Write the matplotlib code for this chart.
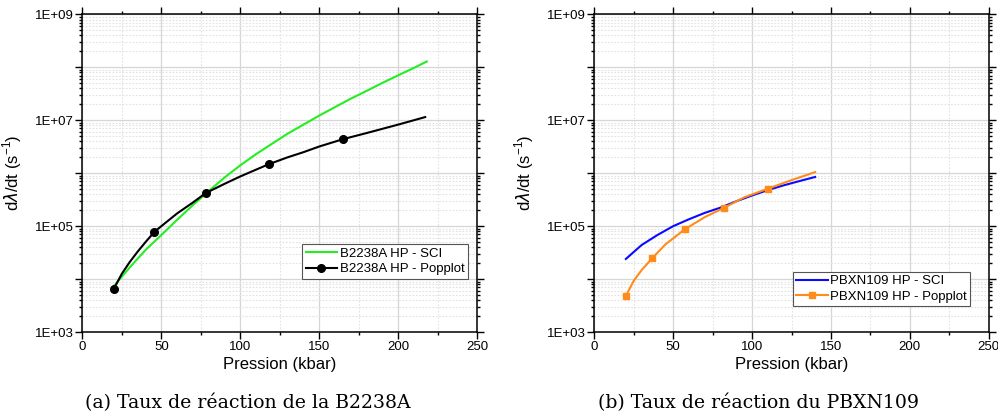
import numpy as np
import matplotlib
matplotlib.use("Agg")
import matplotlib.pyplot as plt
from matplotlib.ticker import LogLocator, FixedLocator, FuncFormatter, MultipleLocator, NullFormatter

plt.rcParams['font.family'] = ['Liberation Sans', 'DejaVu Sans']
plt.rcParams['mathtext.fontset'] = 'custom'
plt.rcParams['mathtext.rm'] = 'Liberation Sans'

# --- data (a) B2238A ---
sci_a_p = [20, 30, 40, 50, 60, 70, 80, 90, 100, 110, 120, 130, 140, 150,
           160, 170, 180, 190, 200, 210, 218]
sci_a_rate = [7.4e3, 1.66e4, 3.55e4, 6.8e4, 1.32e5, 2.5e5, 4.6e5, 8.3e5, 1.41e6,
              2.3e6, 3.6e6, 5.6e6, 8.3e6, 1.23e7, 1.78e7, 2.57e7, 3.6e7, 5.1e7,
              7.1e7, 9.8e7, 1.29e8]
pop_a_p = [20, 25, 30, 35, 40, 45.6, 50, 60, 70, 78, 90, 100, 110, 118, 130,
           140, 150, 165, 180, 200, 217]
pop_a_rate = [6.6e3, 1.26e4, 2.1e4, 3.3e4, 5.0e4, 7.8e4, 1.0e5, 1.74e5, 2.8e5,
              4.2e5, 6.3e5, 8.7e5, 1.17e6, 1.48e6, 2.0e6, 2.5e6, 3.2e6, 4.4e6,
              5.75e6, 8.3e6, 1.15e7]
pop_a_mk_p = [20, 45.6, 78, 118, 165]
pop_a_mk_rate = [6.6e3, 7.8e4, 4.2e5, 1.48e6, 4.4e6]

# --- data (b) PBXN109 ---
sci_b_p = [20, 30, 40, 50, 60, 70, 80, 90, 100, 110, 120, 130, 140]
sci_b_rate = [2.4e4, 4.4e4, 6.8e4, 1.0e5, 1.35e5, 1.78e5, 2.24e5, 2.95e5, 3.8e5,
              4.8e5, 5.9e5, 7.1e5, 8.5e5]
pop_b_p = [20, 25, 30, 36.8, 45, 57.3, 70, 82, 95, 110, 125, 140]
pop_b_rate = [4.8e3, 9.3e3, 1.48e4, 2.5e4, 4.5e4, 8.7e4, 1.48e5, 2.2e5, 3.5e5,
              5.1e5, 7.4e5, 1.05e6]
pop_b_mk_p = [20, 36.8, 57.3, 82, 110]
pop_b_mk_rate = [4.8e3, 2.5e4, 8.7e4, 2.2e5, 5.1e5]

decades = [1e3, 1e4, 1e5, 1e6, 1e7, 1e8, 1e9]


def ylab(v, pos):
	e = int(round(np.log10(v)))
	if e % 2 == 1:
		return "1E+%02d" % e
	return ""


def setup(ax):
	ax.set_yscale('log')
	ax.set_xlim(0, 250)
	ax.set_ylim(1e3, 1e9)
	ax.xaxis.set_major_locator(MultipleLocator(50))
	ax.xaxis.set_minor_locator(MultipleLocator(25))
	ax.yaxis.set_major_locator(FixedLocator(decades))
	ax.yaxis.set_minor_locator(LogLocator(base=10, subs=np.arange(2, 10), numticks=20))
	ax.yaxis.set_major_formatter(FuncFormatter(ylab))
	ax.yaxis.set_minor_formatter(NullFormatter())
	ax.tick_params(which='both', direction='out', top=True, right=True, width=1.0)
	ax.tick_params(which='major', length=4.8, pad=1.5)
	ax.tick_params(which='minor', length=2.4)
	ax.tick_params(axis='y', labelsize=9.5)
	ax.tick_params(axis='x', labelsize=9.5)
	ax.grid(which='major', color='#d6d6d6', lw=0.9, ls='-')
	ax.grid(which='minor', color='#e2e2e2', lw=0.8, ls=(0, (1.5, 1.5)))
	ax.set_axisbelow(True)
	for s in ax.spines.values():
		s.set_linewidth(1.1)
	ax.set_xlabel("Pression (kbar)", fontsize=12, labelpad=3)
	ax.set_ylabel(r"d$\lambda$/dt (s$^{-1}$)", fontsize=12, labelpad=8)


fig = plt.figure(figsize=(9.98, 4.19), dpi=100)
ax1 = fig.add_axes([0.0825, 0.2076, 0.3958, 0.758])
ax2 = fig.add_axes([0.5955, 0.2076, 0.3952, 0.758])

for ax in (ax1, ax2):
	setup(ax)

ax1.plot(sci_a_p, sci_a_rate, color='#22ee22', lw=1.5, label='B2238A HP - SCI')
ax1.plot(pop_a_p, pop_a_rate, color='black', lw=1.5)
ax1.plot(pop_a_mk_p, pop_a_mk_rate, 'o', color='black', ms=5.5)
ax1.plot([], [], '-o', color='black', lw=1.5, ms=5.5, label='B2238A HP - Popplot')

ax2.plot(sci_b_p, sci_b_rate, color='#0a0aff', lw=1.5, label='PBXN109 HP - SCI')
ax2.plot(pop_b_p, pop_b_rate, color='#ff8c1a', lw=1.5)
ax2.plot(pop_b_mk_p, pop_b_mk_rate, 's', color='#ff8c1a', ms=5)
ax2.plot([], [], '-s', color='#ff8c1a', lw=1.5, ms=5, label='PBXN109 HP - Popplot')

for ax, anchor in ((ax1, (0.557, 0.276)), (ax2, (0.503, 0.19))):
	leg = ax.legend(loc='upper left', bbox_to_anchor=anchor, fontsize=9.5,
					handlelength=2.4, handletextpad=0.2, borderpad=0.25,
					labelspacing=0.25, borderaxespad=0, fancybox=False,
					framealpha=1, edgecolor='#555555')
	leg.get_frame().set_linewidth(0.8)

fig.text(0.2485, 0.038, "(a) Taux de réaction de la B2238A", family='DejaVu Serif',
		 fontsize=13.6, ha='center', va='center')
fig.text(0.76, 0.038, "(b) Taux de réaction du PBXN109", family='DejaVu Serif',
		 fontsize=13.6, ha='center', va='center')

fig.savefig("out.png", dpi=100)
